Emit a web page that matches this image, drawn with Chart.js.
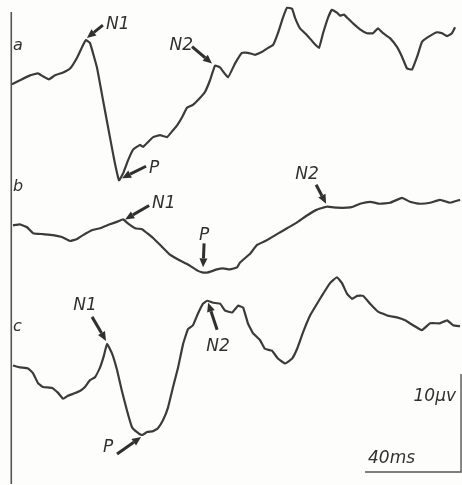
<!DOCTYPE html>
<html>
<head>
<meta charset="utf-8">
<script src="https://cdn.jsdelivr.net/npm/chart.js@4"></script>
<style>
  html, body { margin: 0; padding: 0; background: #fdfdfc; }
  #wrap { width: 462px; height: 485px; position: relative; }
</style>
</head>
<body>
<div id="wrap"><canvas id="traces"></canvas></div>
<script>
// time in ms, amplitude in µV relative to each trace's starting level
const timeA = [0, 3.3, 7.5, 10.8, 12.9, 15.4, 17.9, 21.3, 24.2, 27.1, 29.6, 30.8, 32.5, 35.4, 37.9, 40.8, 42.9, 44.6, 46.3, 48.3, 50.4, 53.3, 54.6, 56.7, 58.8, 61.7, 64.6, 67.1, 68.8, 70.8, 72.9, 75.4, 78.3, 80.4, 82.5, 84.6, 86.7, 90.0, 92.9, 95.8, 98.3, 101.3, 104.2, 106.7, 108.8, 110.8, 112.9, 114.6, 116.7, 117.9, 120.0, 122.9, 125.4, 127.9, 129.6, 131.7, 133.3, 135.4, 136.7, 138.3, 140.0, 142.1, 145.0, 147.9, 150.4, 152.5, 154.6, 157.5, 160.4, 162.5, 164.6, 166.7, 168.8, 170.8, 173.3, 177.1, 179.2, 181.3, 183.3, 184.6];
const voltA = [0, 0.4, 0.9, 1.1, 0.8, 0.5, 0.9, 1.2, 1.6, 2.7, 4.0, 4.5, 4.2, 1.7, -1.6, -5.4, -8.1, -9.8, -9.1, -7.8, -6.7, -6.2, -6.4, -5.9, -5.4, -5.2, -5.4, -4.7, -4.2, -3.4, -2.4, -2.1, -1.4, -0.8, 0.4, 1.9, 1.7, 0.7, 2.1, 3.2, 3.2, 3.0, 3.3, 3.7, 4.0, 5.2, 6.8, 7.8, 7.7, 6.8, 5.7, 5.0, 4.3, 3.7, 5.2, 6.8, 7.6, 7.3, 7.0, 7.1, 6.7, 6.2, 5.6, 5.2, 5.2, 5.7, 5.2, 4.7, 3.8, 2.8, 1.6, 1.5, 2.8, 4.3, 4.8, 5.3, 5.2, 4.9, 5.2, 5.8];

const timeB = [0.4, 3.3, 6.3, 8.8, 12.9, 17.1, 20.8, 24.2, 27.1, 29.6, 33.3, 36.7, 40.8, 44.2, 46.3, 48.3, 51.3, 54.2, 56.3, 58.8, 62.5, 65.8, 70.0, 73.3, 77.1, 79.2, 81.7, 85.4, 87.9, 90.8, 93.8, 95.0, 99.2, 102.1, 106.3, 110.4, 114.6, 118.8, 122.9, 127.1, 131.3, 135.4, 139.6, 142.1, 145.0, 149.2, 153.3, 157.5, 162.5, 165.8, 170.0, 174.2, 178.3, 182.5, 186.7];
const voltB = [0, 0.1, -0.2, -0.8, -0.9, -1.0, -1.2, -1.6, -1.4, -1.0, -0.5, -0.3, 0.1, 0.4, 0.6, 0.2, -0.3, -0.4, -0.8, -1.3, -2.2, -3.0, -3.6, -4.0, -4.6, -4.8, -4.8, -4.5, -4.4, -4.5, -4.3, -3.8, -2.9, -2.0, -1.5, -0.9, -0.3, 0.3, 1.0, 1.6, 1.9, 1.8, 1.8, 1.9, 2.2, 2.4, 2.2, 2.3, 2.8, 2.4, 2.2, 2.3, 2.6, 2.3, 2.6];

const timeC = [0.4, 3.3, 6.7, 8.8, 10.8, 12.9, 16.7, 19.2, 21.3, 23.3, 25.4, 28.3, 30.4, 32.5, 34.6, 36.7, 38.3, 39.6, 41.7, 43.8, 45.8, 47.9, 50.0, 52.1, 54.2, 56.3, 58.8, 60.8, 62.9, 65.0, 67.1, 69.2, 71.3, 73.3, 75.4, 77.5, 79.6, 81.3, 83.8, 86.7, 88.8, 91.7, 94.2, 96.3, 98.3, 100.4, 103.3, 105.4, 108.3, 110.8, 113.8, 116.7, 118.8, 121.3, 124.2, 127.1, 129.6, 132.5, 135.4, 137.5, 139.6, 141.7, 143.8, 146.3, 149.2, 152.5, 156.3, 160.4, 163.8, 167.1, 170.8, 174.2, 178.3, 181.3, 183.8, 186.7];
const voltC = [0, -0.2, -0.3, -0.8, -1.8, -2.2, -2.3, -2.8, -3.4, -3.1, -2.9, -2.6, -2.2, -1.5, -1.2, -0.2, 1.0, 2.2, 1.2, -0.5, -2.6, -4.6, -6.3, -6.8, -7.1, -6.8, -6.7, -6.4, -5.6, -4.3, -2.2, -0.2, 2.2, 3.7, 4.1, 5.3, 6.3, 6.6, 6.4, 6.3, 5.6, 5.4, 6.1, 5.9, 4.3, 3.3, 2.6, 1.7, 1.5, 0.7, 0.2, 0.7, 1.7, 3.4, 5.1, 6.3, 7.3, 8.4, 9.0, 8.4, 7.3, 6.8, 7.1, 7.1, 6.3, 5.5, 5.1, 4.9, 4.6, 4.1, 3.6, 4.3, 4.3, 4.6, 4.1, 4.0];

const traceNames = ["a", "b", "c"];
const peakNames = ["N1", "P", "N2"];
// latency (ms) of the marked peaks, per trace
const peakTimesA = [30.8, 44.6, 84.6];
const peakTimesB = [46.3, 79.2, 131.3];
const peakTimesC = [39.6, 54.2, 81.3];

const scaleBarMs = 40;
const scaleBarUv = 10;

const traceColor = "#3b3b3b";
const inkColor = "#303030";
const labelFont = "italic 17px 'DejaVu Sans', sans-serif";

// vertical stacking of the traces (µV on the shared axis)
const traceOffsets = [40.9, 26.5, 12.2];

const traces = [
  { t: timeA, v: voltA, peaks: peakTimesA },
  { t: timeB, v: voltB, peaks: peakTimesB },
  { t: timeC, v: voltC, peaks: peakTimesC }
];

// arrow tail / text placement relative to arrow tip, in pixels
const arrowLayout = [
  [ { tip: [1, -2], tail: [16, -13], text: [19, -14], align: "left" },
    { tip: [3, -2], tail: [24, -12], text: [27, -10], align: "left" },
    { tip: [-3, -2], tail: [-20, -17], text: [-19, -18], align: "right" } ],
  [ { tip: [2, 0], tail: [24, -14], text: [27, -16], align: "left" },
    { tip: [1, -5], tail: [1, -24], text: [1, -32], align: "center" },
    { tip: [-1, -3], tail: [-10, -19], text: [-19, -29], align: "center" } ],
  [ { tip: [-1, -3], tail: [-14, -24], text: [-21, -35], align: "center" },
    { tip: [-1, 2], tail: [-24, 17], text: [-33, 11], align: "center" },
    { tip: [1, 2], tail: [9, 27], text: [10, 44], align: "center" } ]
];

function drawArrow(ctx, x0, y0, x1, y1) {
  const ang = Math.atan2(y1 - y0, x1 - x0);
  const head = 9;
  const bx = x1 - Math.cos(ang) * head;
  const by = y1 - Math.sin(ang) * head;
  ctx.beginPath();
  ctx.moveTo(x0, y0);
  ctx.lineTo(bx, by);
  ctx.lineWidth = 3;
  ctx.stroke();
  ctx.beginPath();
  ctx.moveTo(x1, y1);
  ctx.lineTo(bx + Math.sin(ang) * 4, by - Math.cos(ang) * 4);
  ctx.lineTo(bx - Math.sin(ang) * 4, by + Math.cos(ang) * 4);
  ctx.closePath();
  ctx.fill();
}

const markupPlugin = {
  id: "markup",
  afterDatasetsDraw(chart) {
    const { ctx } = chart;
    const xs = chart.scales.x;
    const ys = chart.scales.y;
    ctx.save();
    ctx.strokeStyle = inkColor;
    ctx.fillStyle = inkColor;
    ctx.lineCap = "butt";

    // left baseline axis
    ctx.beginPath();
    ctx.lineWidth = 1.6;
    ctx.strokeStyle = "#555";
    ctx.moveTo(xs.getPixelForValue(-0.3), 12);
    ctx.lineTo(xs.getPixelForValue(-0.3), 484);
    ctx.stroke();
    ctx.strokeStyle = inkColor;

    ctx.font = labelFont;
    ctx.textBaseline = "middle";

    traces.forEach((tr, i) => {
      // trace letter
      ctx.textAlign = "left";
      ctx.font = "italic 16px 'DejaVu Sans', sans-serif";
      ctx.fillText(traceNames[i], 13, ys.getPixelForValue(traceOffsets[i] + 3.9));
      ctx.font = labelFont;

      tr.peaks.forEach((pt, k) => {
        const idx = tr.t.indexOf(pt);
        if (idx < 0) return;
        const px = xs.getPixelForValue(tr.t[idx]);
        const py = ys.getPixelForValue(tr.v[idx] + traceOffsets[i]);
        const lay = arrowLayout[i][k];
        const tx = px + lay.tip[0];
        const ty = py + lay.tip[1];
        drawArrow(ctx, tx + lay.tail[0], ty + lay.tail[1], tx, ty);
        ctx.textAlign = lay.align;
        ctx.fillText(peakNames[k], tx + lay.text[0], ty + lay.text[1]);
      });
    });

    // calibration bars
    const right = xs.getPixelForValue(187.1);
    const left = xs.getPixelForValue(187.1 - scaleBarMs);
    const bottom = ys.getPixelForValue(1.33);
    const top = ys.getPixelForValue(1.33 + scaleBarUv);
    ctx.beginPath();
    ctx.lineWidth = 1.4;
    ctx.strokeStyle = "#555";
    ctx.moveTo(right, top);
    ctx.lineTo(right, bottom);
    ctx.lineTo(left, bottom);
    ctx.stroke();
    ctx.textAlign = "right";
    ctx.fillText(scaleBarUv + "µv", right - 5, (top + bottom) / 2 - 26);
    ctx.textAlign = "left";
    ctx.fillText(scaleBarMs + "ms", left + 3, bottom - 13);
    ctx.restore();
  }
};

new Chart(document.getElementById("traces"), {
  type: "scatter",
  data: {
    datasets: traces.map((tr, i) => ({
      label: traceNames[i],
      data: tr.t.map((t, j) => ({ x: t, y: tr.v[j] + traceOffsets[i] })),
      showLine: true,
      borderColor: traceColor,
      borderWidth: 2.2,
      pointRadius: 0,
      tension: 0.1,
      fill: false
    }))
  },
  options: {
    responsive: true,
    maintainAspectRatio: false,
    animation: false,
    layout: { padding: 0 },
    plugins: {
      legend: { display: false },
      tooltip: { enabled: false }
    },
    scales: {
      x: { type: "linear", display: false, min: -5, max: 187.5 },
      y: { type: "linear", display: false, min: 0, max: 49.49 }
    }
  },
  plugins: [markupPlugin]
});
</script>
</body>
</html>
